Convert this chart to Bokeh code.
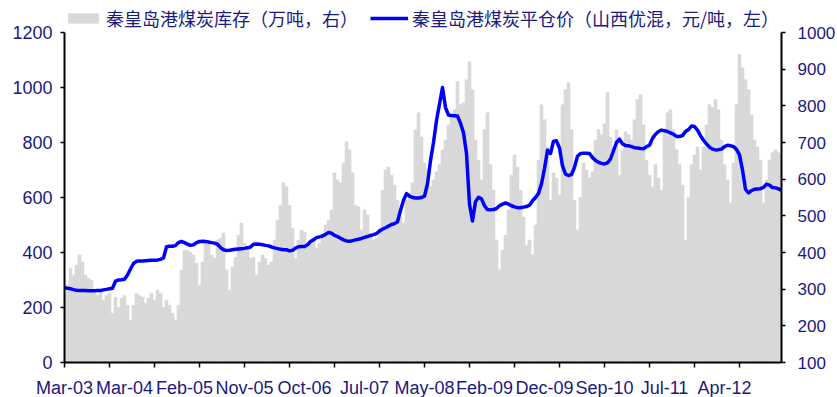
from bokeh.plotting import figure
from bokeh.models import Range1d, LinearAxis, FixedTicker, Legend, LegendItem, ColumnDataSource
from bokeh.embed import file_html
from bokeh.resources import INLINE

# Qinhuangdao port coal: inventory (10k t, right axis) and FOB price
# (Shanxi blend, yuan/t, left axis), sampled every two weeks from Mar-03.
inventory = [
    305, 311, 357, 338, 365, 393, 374, 338, 330, 324,
    297, 283, 297, 270, 283, 289, 234, 278, 250, 275,
    283, 256, 215, 256, 289, 283, 278, 261, 275, 289,
    270, 297, 289, 250, 270, 256, 234, 215, 256, 352,
    406, 406, 401, 393, 371, 311, 374, 425, 425, 393,
    384, 434, 439, 453, 352, 297, 360, 387, 447, 480,
    425, 415, 384, 387, 338, 374, 393, 384, 365, 374,
    434, 488, 529, 590, 579, 529, 466, 384, 434, 461,
    456, 420, 425, 434, 412, 425, 447, 475, 488, 516,
    617, 598, 590, 644, 702, 680, 617, 529, 524, 461,
    516, 502, 447, 434, 439, 466, 570, 625, 633, 611,
    584, 543, 497, 480, 543, 562, 590, 735, 781, 715,
    644, 625, 579, 598, 620, 639, 680, 707, 748, 770,
    789, 866, 803, 808, 871, 920, 844, 707, 652, 598,
    735, 781, 639, 570, 434, 352, 406, 447, 516, 611,
    666, 633, 570, 497, 420, 434, 393, 475, 652, 803,
    762, 688, 543, 617, 603, 557, 803, 844, 863, 735,
    543, 461, 551, 644, 625, 603, 620, 707, 735, 721,
    751, 836, 715, 688, 735, 611, 680, 729, 721, 707,
    762, 817, 830, 748, 652, 611, 579, 639, 603, 570,
    735, 781, 789, 735, 680, 639, 584, 434, 551, 639,
    666, 688, 625, 688, 748, 803, 795, 817, 789, 707,
    639, 598, 535, 644, 803, 940, 904, 871, 844, 775,
    707, 688, 652, 535, 598, 652, 672, 680, 672, 666,
]

price = [
    272, 270, 268, 265, 263, 262, 262, 262, 261, 261,
    261, 262, 262, 264, 266, 268, 270, 296, 300, 301,
    303, 318, 340, 360, 368, 369, 369, 370, 371, 372,
    372, 373, 375, 380, 421, 423, 423, 425, 436, 440,
    436, 430, 426, 428, 436, 440, 441, 440, 438, 436,
    434, 430, 418, 410, 407, 408, 410, 412, 413, 414,
    415, 417, 420, 430, 431, 430, 428, 426, 424, 420,
    417, 414, 412, 410, 410, 406, 408, 416, 421, 422,
    422, 428, 440, 446, 454, 457, 460, 466, 473, 470,
    462, 458, 452, 446, 442, 441, 443, 446, 448, 451,
    455, 458, 462, 465, 469, 478, 485, 490, 496, 502,
    505, 512, 553, 590, 614, 605, 600, 598, 598, 600,
    605, 650, 734, 800, 880, 940, 1000, 927, 900, 898,
    897, 896, 870, 835, 760, 575, 515, 585, 601, 595,
    570, 556, 555, 556, 560, 570, 576, 580, 576, 570,
    566, 563, 563, 565, 567, 572, 588, 600, 615, 650,
    705, 772, 760, 805, 806, 780, 715, 685, 680, 683,
    710, 750, 760, 761, 761, 760, 745, 735, 728, 724,
    722, 726, 740, 770, 800, 812, 795, 789, 788, 785,
    781, 780, 778, 777, 785, 790, 815, 830, 840, 845,
    843, 840, 835, 830, 822, 822, 825, 840, 847, 860,
    858, 845, 825, 808, 795, 783, 776, 773, 774, 776,
    785, 790, 788, 785, 775, 755, 700, 630, 617, 625,
    630, 631, 632, 637, 648, 645, 636, 635, 632, 625,
]

tick_labels = ["Mar-03", "Mar-04", "Feb-05", "Nov-05", "Oct-06", "Jul-07",
               "May-08", "Feb-09", "Dec-09", "Sep-10", "Jul-11", "Apr-12"]
LABEL_EVERY = 20   # periods between date labels
MARK_EVERY = 15    # periods between tick marks

price_ticks = list(range(0, 1201, 200))
inv_ticks = list(range(100, 1001, 100))

inv_label = "秦皇岛港煤炭库存（万吨，右）"
price_label = "秦皇岛港煤炭平仓价（山西优混，元/吨，左）"

n = len(inventory)
period = list(range(n))
src = ColumnDataSource(dict(period=period, inventory=inventory, price=price))

TEXT = "#1a1a80"
AXIS_FONT = "Liberation Sans"
CJK_FONT = "Noto Sans CJK SC"

# The frame reaches up to the top of the page so the legend can sit above
# the axes; the axes themselves are bounded to their value ranges.
FRAME_W, FRAME_H, AXIS_H = 717, 360, 330
price_top = price_ticks[-1] * FRAME_H / AXIS_H
inv_top = inv_ticks[0] + (inv_ticks[-1] - inv_ticks[0]) * FRAME_H / AXIS_H

p = figure(frame_width=FRAME_W, frame_height=FRAME_H,
           output_backend="svg", toolbar_location=None,
           x_range=Range1d(0, n - 1), y_range=Range1d(0, price_top),
           min_border_left=64, min_border_right=56, min_border_top=2,
           min_border_bottom=35, outline_line_color=None)
p.xgrid.visible = False
p.ygrid.visible = False
p.extra_y_ranges = {"inv": Range1d(inv_ticks[0], inv_top)}

bars = p.vbar(x="period", top="inventory", bottom=inv_ticks[0], width=1.0, source=src,
              y_range_name="inv", fill_color="#D9D9D9", line_color="#D9D9D9",
              line_width=0.6)
line = p.line(x="period", y="price", source=src, line_color="#0000FF",
              line_width=3.5, line_join="round")

# bottom axis: date labels on one spacing, tick marks on another
label_pos = [LABEL_EVERY * i for i in range(len(tick_labels))]
mark_pos = list(range(0, n, MARK_EVERY))
xa = p.xaxis[0]
xa.ticker = FixedTicker(ticks=label_pos, minor_ticks=mark_pos)
xa.major_label_overrides = {pos: lab for pos, lab in zip(label_pos, tick_labels)}
xa.major_tick_in = 0
xa.major_tick_out = 0
xa.minor_tick_in = 0
xa.minor_tick_out = 5
xa.minor_tick_line_color = "black"
xa.minor_tick_line_width = 1.5
xa.major_label_standoff = 10

ya = p.yaxis[0]
ya.ticker = FixedTicker(ticks=price_ticks)
ya.bounds = (price_ticks[0], price_ticks[-1])
ya.major_tick_in = 0
ya.major_tick_out = 4
ya.minor_tick_line_color = None
ya.major_label_standoff = 8

ra = LinearAxis(y_range_name="inv", ticker=FixedTicker(ticks=inv_ticks),
                bounds=(inv_ticks[0], inv_ticks[-1]))
ra.major_tick_in = 0
ra.major_tick_out = 4
ra.minor_tick_line_color = None
ra.major_label_standoff = 12
p.add_layout(ra, "right")

for ax in (xa, ya, ra):
    ax.axis_line_color = "black"
    ax.axis_line_width = 2
    ax.major_tick_line_color = "black"
    ax.major_tick_line_width = 1.5
    ax.major_label_text_font = AXIS_FONT
    ax.major_label_text_font_size = "18px"
    ax.major_label_text_color = TEXT
ra.major_label_text_font_size = "17px"

legend = Legend(items=[LegendItem(label=inv_label, renderers=[bars]),
                       LegendItem(label=price_label, renderers=[line])],
                orientation="horizontal", location=(0, FRAME_H - 29),
                padding=0, margin=0, spacing=12, label_standoff=4,
                glyph_width=38, glyph_height=12, label_height=20,
                border_line_color=None, background_fill_alpha=0,
                label_text_font=CJK_FONT, label_text_font_size="18px",
                label_text_color=TEXT)
p.add_layout(legend, "center")

open("out.html", "w").write(file_html(p, INLINE))
